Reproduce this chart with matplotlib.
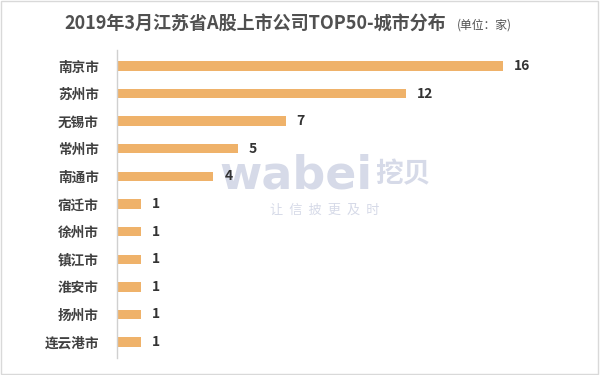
import matplotlib.pyplot as plt
import matplotlib.patches as mpatches

plt.rcParams['font.family'] = ['Noto Sans CJK SC', 'DejaVu Sans']

cities = ['南京市', '苏州市', '无锡市', '常州市', '南通市', '宿迁市',
          '徐州市', '镇江市', '淮安市', '扬州市', '连云港市']
counts = [16, 12, 7, 5, 4, 1, 1, 1, 1, 1, 1]

bar_color = '#EFB26A'
text_color = '#404040'

fig = plt.figure(figsize=(6, 3.75), dpi=100)
fig.patch.set_facecolor('white')

# thin frame round the picture
fig.patches.append(mpatches.Rectangle((0.002, 0.003), 0.995, 0.994, transform=fig.transFigure,
                                      fill=False, edgecolor='#D9D9D9', linewidth=1))

ax = fig.add_axes([0.195, 0.045, 0.738, 0.822])
ax.patch.set_visible(False)
ypos = list(range(len(cities)))
ax.barh(ypos, counts, height=0.34, color=bar_color, zorder=2)
ax.set_ylim(len(cities) - 0.42, -0.58)
ax.set_xlim(0, 18.36)

ax.set_yticks(ypos)
ax.set_yticklabels(cities, fontsize=9.8, color=text_color, fontweight='bold')
ax.tick_params(axis='y', length=0, pad=13)
ax.set_xticks([])
for s in ['top', 'right', 'bottom']:
    ax.spines[s].set_visible(False)
ax.spines['left'].set_color('#D0D0D0')
ax.spines['left'].set_linewidth(1)

for y, v in zip(ypos, counts):
    ax.text(v + 0.45, y, str(v), va='center', ha='left', fontsize=10,
            fontweight='bold', color='#333333', zorder=3)

# watermark, drawn behind the bars
wm = '#D6DAE8'
ax.text(0.365, 0.53, 'wabei', transform=fig.transFigure, ha='left', va='center',
        fontsize=33, fontweight='bold', color=wm, family=['DejaVu Sans'], zorder=0.5)
ax.text(0.625, 0.535, '挖贝', transform=fig.transFigure, ha='left', va='center',
        fontsize=20, fontweight='bold', color=wm, zorder=0.5)
ax.text(0.541, 0.44, '让  信  披  更  及  时', transform=fig.transFigure, ha='center',
        va='center', fontsize=9.5, color=wm, zorder=0.5)

# title
fig.text(0.108, 0.938, '2019年3月江苏省A股上市公司TOP50-城市分布', ha='left', va='center',
         fontsize=13, fontweight='bold', color='#505050')
fig.text(0.762, 0.933, '(单位：家)', ha='left', va='center', fontsize=8.5,
         color='#505050')

fig.savefig('out.png', dpi=100, facecolor='white')
